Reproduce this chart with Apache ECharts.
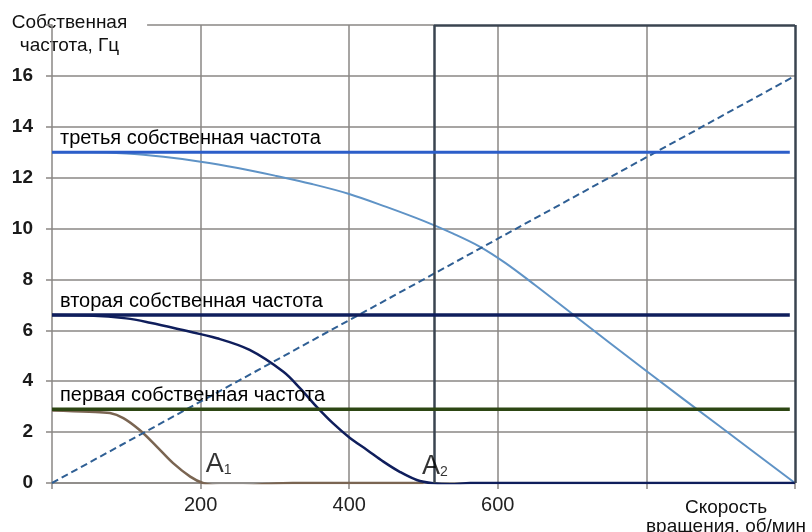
<!DOCTYPE html>
<html><head><meta charset="utf-8">
<script src="https://cdn.jsdelivr.net/npm/echarts@6/dist/echarts.min.js"></script>
<style>html,body{margin:0;padding:0;background:#fff}#c{width:812px;height:532px}</style>
</head><body><div id="c"></div>
<script>
// ---- data ----
const xTickValues = [0, 200, 400, 600, 800, 1000];
const xTickLabels = ['', '200', '400', '600', '', ''];
const yTickValues = [0, 2, 4, 6, 8, 10, 12, 14, 16, 18];
const yTickLabels = ['0', '2', '4', '6', '8', '10', '12', '14', '16', ''];

const xAxisTitle = 'Скорость\nвращения, об/мин';
const yAxisTitle = 'Собственная\nчастота, Гц';

// first mode (brown curve)
const firstModeX = [0, 50, 78, 96, 118, 141, 163, 186, 203, 226, 253, 289, 324, 400, 500];
const firstModeY = [2.85, 2.8, 2.75, 2.55, 2.08, 1.43, 0.78, 0.25, 0.0, -0.12, -0.12, -0.04, 0.0, 0.0, 0.0];

// second mode (navy curve)
const secondModeX = [0, 50, 100, 132, 176, 222, 266, 311, 334, 356, 378, 401, 424, 446, 468, 491, 513, 536, 563, 800, 1000];
const secondModeY = [6.6, 6.58, 6.47, 6.3, 6.01, 5.69, 5.23, 4.38, 3.72, 3.0, 2.35, 1.77, 1.3, 0.84, 0.44, 0.12, -0.01, -0.05, 0.0, 0.0, 0.0];

// third mode (light blue curve)
const thirdModeX = [0, 50, 100, 150, 200, 250, 300, 350, 400, 450, 500, 540, 575, 610, 650, 700, 800, 900, 1000];
const thirdModeY = [13.0, 13.0, 12.95, 12.82, 12.63, 12.38, 12.08, 11.75, 11.36, 10.85, 10.3, 9.8, 9.3, 8.65, 7.78, 6.65, 4.4, 2.2, 0.0];

// rotation frequency line (dashed)
const rotationX = [0, 1000];
const rotationY = [0, 16];

// natural frequency levels
const levelNames = ['первая собственная частота', 'вторая собственная частота', 'третья собственная частота'];
const levelValues = [2.9, 6.6, 13.0];
const levelStart = 0;
const levelEnd = 993;

// frame
const boxX = 514;
const yTop = 18;
const xMax = 1000;
const topLineStart = 128;

// annotations
const annotNames = ['A', 'A'];
const annotSubs = ['1', '2'];
const annotX = [207, 498];
const annotY = [0.72, 0.64];

// ---- chart ----
const FONT = '"Liberation Sans", Arial, sans-serif';
const zip = (xs, ys) => xs.map((x, i) => [x, ys[i]]);
const GRID = '#8a8784';

const levelColors = ['#2d4613', '#0f1e5c', '#2c5ec9'];
const levelWidths = [3.5, 3.5, 3];

const series = [];

series.push({
  type: 'line', name: 'first', data: zip(firstModeX, firstModeY), smooth: 0.35,
  symbol: 'none', lineStyle: { color: '#7a6552', width: 2.5 }, z: 3, silent: true
});
series.push({
  type: 'line', name: 'second', data: zip(secondModeX, secondModeY), smooth: 0.35,
  symbol: 'none', lineStyle: { color: '#0f1e5c', width: 2.5 }, z: 4, silent: true
});
series.push({
  type: 'line', name: 'third', data: zip(thirdModeX, thirdModeY), smooth: 0.35,
  symbol: 'none', lineStyle: { color: '#5f93c6', width: 2 }, z: 3, silent: true
});
levelValues.forEach((v, i) => {
  series.push({
    type: 'line', name: levelNames[i], symbol: 'circle', symbolSize: 0, showSymbol: true, silent: true, z: 5,
    lineStyle: { color: levelColors[i], width: levelWidths[i] },
    itemStyle: { color: levelColors[i] },
    data: [
      { value: [levelStart, v], label: { show: true, formatter: levelNames[i], position: 'right', align: 'left',
        verticalAlign: 'middle', offset: [3, -14], color: '#000', fontFamily: FONT, fontSize: 20 } },
      [levelEnd, v]
    ]
  });
});
series.push({
  type: 'line', name: 'rotation', data: zip(rotationX, rotationY), symbol: 'none', silent: true, z: 4,
  lineStyle: { color: '#2f5f94', width: 2, type: [7, 4] },
  markLine: {
    silent: true, symbol: 'none', label: { show: false },
    data: [
      [{ coord: [topLineStart, yTop], lineStyle: { color: GRID, width: 1.5, type: 'solid' } }, { coord: [boxX, yTop] }],
      [{ coord: [boxX, 0], lineStyle: { color: '#3a4450', width: 2.5, type: 'solid' } }, { coord: [boxX, yTop] }],
      [{ coord: [boxX, yTop], lineStyle: { color: '#3a4450', width: 2.5, type: 'solid' } }, { coord: [xMax, yTop] }],
      [{ coord: [xMax, 0], lineStyle: { color: '#3a4450', width: 2.5, type: 'solid' } }, { coord: [xMax, yTop] }]
    ]
  }
});
series.push({
  type: 'scatter', name: 'annot', symbolSize: 0, silent: true, z: 6,
  data: annotX.map((x, i) => ({
    value: [x, annotY[i]],
    label: {
      show: true, position: 'inside', align: 'left', verticalAlign: 'middle',
      formatter: '{a|' + annotNames[i] + '}{s|' + annotSubs[i] + '}',
      rich: {
        a: { fontSize: 27, color: '#000', fontFamily: FONT },
        s: { fontSize: 14, color: '#000', fontFamily: FONT, padding: [10, 0, 0, 0] }
      }
    }
  }))
});

const chart = echarts.init(document.getElementById('c'), null, { renderer: 'canvas' });
chart.setOption({
  animation: false,
  backgroundColor: '#fff',
  grid: { left: 52, right: 17, top: 25, bottom: 49, containLabel: false, outerBoundsMode: 'none' },
  xAxis: {
    type: 'value', min: 0, max: 1000, interval: 200,
    axisLine: { show: true, lineStyle: { color: GRID, width: 1.5 } },
    axisTick: { show: true, length: 6, lineStyle: { color: GRID, width: 1.5 } },
    splitLine: { show: true, showMinLine: false, showMaxLine: false, lineStyle: { color: GRID, width: 1.5 } },
    axisLabel: {
      margin: 12, color: '#222', fontFamily: FONT, fontSize: 20,
      formatter: v => { const i = xTickValues.indexOf(v); return i >= 0 ? xTickLabels[i] : ''; }
    },
    name: xAxisTitle, nameLocation: 'end', nameGap: -69,
    nameTextStyle: { align: 'center', verticalAlign: 'top', color: '#111', fontFamily: FONT, fontSize: 19,
      lineHeight: 19, padding: [15, 0, 0, 0] }
  },
  yAxis: {
    type: 'value', min: 0, max: 18, interval: 2,
    axisLine: { show: true, lineStyle: { color: GRID, width: 1.5 } },
    axisTick: { show: true, length: 6, lineStyle: { color: GRID, width: 1.5 } },
    splitLine: { show: true, showMaxLine: false, lineStyle: { color: GRID, width: 1.5 } },
    axisLabel: {
      margin: 19, color: '#1a1a1a', fontFamily: FONT, fontSize: 19, fontWeight: 'bold',
      formatter: v => { const i = yTickValues.indexOf(v); return i >= 0 ? yTickLabels[i] : ''; }
    },
    name: yAxisTitle, nameLocation: 'end', nameGap: -9,
    nameTextStyle: { align: 'center', verticalAlign: 'middle', color: '#111', fontFamily: FONT, fontSize: 19,
      lineHeight: 23, padding: [3, 0, 3, 35], backgroundColor: '#fff' }
  },
  series: series
});
</script></body></html>
